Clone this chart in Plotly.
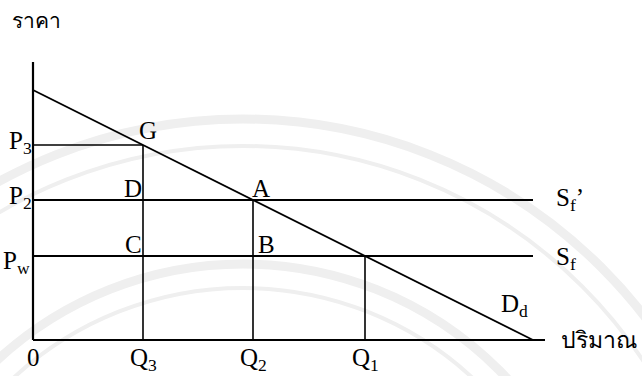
import plotly.graph_objects as go

# ---- data (diagram units) ----
demand_q = [0, 500]
demand_p = [250, 0]
price_levels = {"P3": 195, "P2": 140, "Pw": 84}
quantities = {"Q3": 110, "Q2": 220, "Q1": 332}
supply_end = 500
x_axis_end = 512
y_axis_end = 278

P3, P2, Pw = price_levels["P3"], price_levels["P2"], price_levels["Pw"]
Q3, Q2, Q1 = quantities["Q3"], quantities["Q2"], quantities["Q1"]

BLACK = "#000000"
fig = go.Figure()

def seg(x, y, w=1.6):
    fig.add_trace(go.Scatter(x=x, y=y, mode="lines", line=dict(color=BLACK, width=w),
                             hoverinfo="skip", showlegend=False))

# axes
seg([0, 0], [0, y_axis_end], 2.2)
seg([0, x_axis_end], [0, 0], 2.2)
# demand
seg(demand_q, demand_p, 1.8)
# supply lines
seg([0, supply_end], [P2, P2], 2.0)
seg([0, supply_end], [Pw, Pw], 1.8)
# P3 horizontal to G
seg([0, Q3], [P3, P3], 1.6)
# verticals
seg([Q3, Q3], [0, P3], 1.6)
seg([Q2, Q2], [0, P2], 1.6)
seg([Q1, Q1], [0, Pw], 1.6)

SERIF = "Liberation Serif, Times New Roman, serif"
def lab(x, y, text, size=25, anchor="center", family=SERIF):
    fig.add_annotation(x=x, y=y, text=text, showarrow=False, xanchor=anchor, yanchor="middle",
                       font=dict(family=family, size=size, color=BLACK))

lab(-26, P3 + 3, "P<sub>3</sub>", anchor="left")
lab(-26, P2 + 3, "P<sub>2</sub>", anchor="left")
lab(-32, Pw - 6, "P<sub>w</sub>", anchor="left")
lab(Q3 - 6, P3 + 15, "G", anchor="left")
lab(Q3 + 1, P2 + 12, "D", anchor="right")
lab(Q3 + 1, Pw + 12, "C", anchor="right")
lab(Q2 - 3, P2 + 12, "A", anchor="left")
lab(Q2 + 3, Pw + 12, "B", anchor="left")
lab(supply_end + 21, P2 + 1, "S<sub>f</sub>’", anchor="left")
lab(supply_end + 21, Pw - 2, "S<sub>f</sub>", anchor="left")
lab(466, 35, "D<sub>d</sub>", anchor="left")
lab(0, -17, "0")
lab(Q3, -19, "Q<sub>3</sub>")
lab(Q2, -19, "Q<sub>2</sub>")
lab(Q1, -19, "Q<sub>1</sub>")
lab(526, 0, "ปริมาณ", size=23, anchor="left")
lab(-23, 320, "ราคา", size=21, anchor="left", family="Noto Sans, DejaVu Sans, sans-serif")

# faint watermark rings (decoration only)
cx, cy = 210, -286
for r, w in [(507, 9), (480, 4), (362, 9), (338, 4)]:
    fig.add_shape(type="circle", xref="x", yref="y", x0=cx - r, y0=cy - r, x1=cx + r, y1=cy + r,
                  line=dict(color="#efefef", width=w), layer="below")

fig.update_xaxes(range=[-33, 609], visible=False, fixedrange=True)
fig.update_yaxes(range=[-36, 340], visible=False, fixedrange=True)
fig.update_layout(width=642, height=376, margin=dict(l=0, r=0, t=0, b=0),
                  plot_bgcolor="white", paper_bgcolor="white", showlegend=False)

fig.write_html("out.html", config={"displayModeBar": False},
               post_script="document.body.style.margin='0px';document.body.style.overflow='hidden';")
